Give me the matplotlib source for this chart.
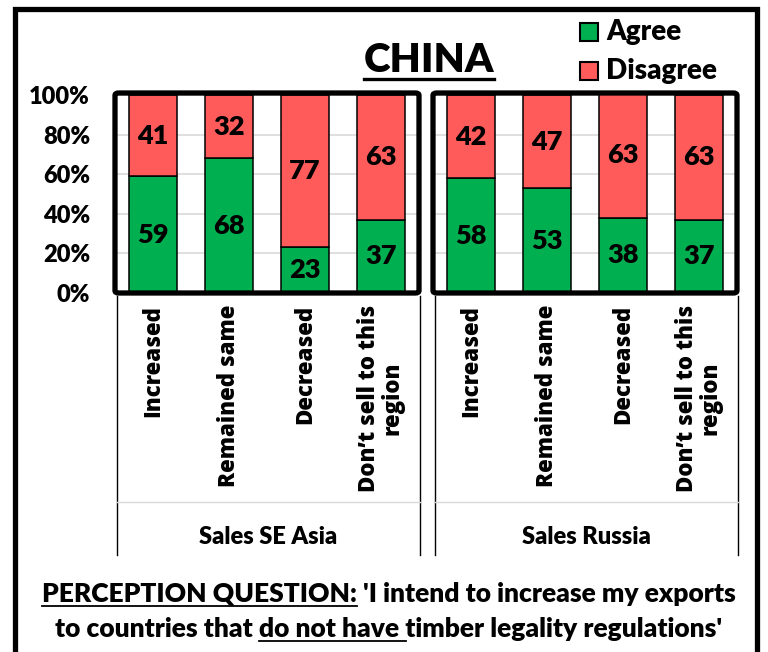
import matplotlib
matplotlib.use('Agg')
import matplotlib.pyplot as plt
from matplotlib.patches import Rectangle, FancyBboxPatch
from matplotlib.lines import Line2D
import numpy as np

# data
categories = ["Increased", "Remained same", "Decreased", "Don\u2019t sell to this\nregion"]
se_asia_agree = [59, 68, 23, 37]
se_asia_disagree = [41, 32, 77, 63]
russia_agree = [58, 53, 38, 37]
russia_disagree = [42, 47, 63, 63]
groups = ["Sales SE Asia", "Sales Russia"]
y_ticks = [0, 20, 40, 60, 80, 100]

GREEN = '#00B050'
RED = '#FF5B5B'
CAL = 'Lato'
OPEN = 'Open Sans'
HEAVY = 'heavy'

W, H = 768, 652
fig = plt.figure(figsize=(7.68, 6.52), dpi=100)
fig.patch.set_facecolor('white')


def fx(x):
    return x / W


def fy(y):
    return 1 - y / H


def hline(x0, x1, y, color='black', lw=1.0):
    fig.add_artist(Line2D([fx(x0), fx(x1)], [fy(y), fy(y)], color=color, lw=lw,
                          transform=fig.transFigure))


def vline(x, y0, y1, color='black', lw=1.0):
    fig.add_artist(Line2D([fx(x), fx(x)], [fy(y0), fy(y1)], color=color, lw=lw,
                          transform=fig.transFigure))


panels = [
    (115, se_asia_agree, se_asia_disagree, groups[0], True),
    (433, russia_agree, russia_disagree, groups[1], False),
]

idx = np.arange(len(categories))
for x0, agree, disagree, group, show_y in panels:
    ax = fig.add_axes([fx(x0), fy(293), 304 / W, 200 / H])
    ax.bar(idx, agree, width=0.64, color=GREEN, edgecolor='black', lw=1.1, zorder=3)
    ax.bar(idx, disagree, bottom=agree, width=0.64, color=RED, edgecolor='black',
           lw=1.1, zorder=3)
    for i, (a, d) in enumerate(zip(agree, disagree)):
        ax.text(i, a / 2, str(a), ha='center', va='center', fontsize=19.5,
                fontweight=HEAVY, family=CAL, zorder=4)
        ax.text(i, a + d / 2, str(d), ha='center', va='center', fontsize=19.5,
                fontweight=HEAVY, family=CAL, zorder=4)
    ax.set_xlim(-0.5, 3.5)
    ax.set_ylim(0, 101)
    ax.set_yticks(y_ticks)
    if show_y:
        ax.set_yticklabels([f"{v}%" for v in y_ticks], fontsize=17, fontweight=HEAVY,
                           family=CAL)
    else:
        ax.set_yticklabels([])
    ax.set_xticks(idx)
    ax.set_xticklabels(categories, rotation=90, fontsize=16, fontweight=800,
                       family=OPEN, multialignment='center', linespacing=1.0)
    ax.tick_params(axis='y', length=0, pad=18)
    ax.tick_params(axis='x', length=0, pad=8.5)
    ax.grid(axis='y', color='#d9d9d9', lw=1.2, zorder=0)
    ax.set_axisbelow(True)
    for s in ax.spines.values():
        s.set_visible(False)
    ax.add_patch(FancyBboxPatch((0, 0), 1, 1, boxstyle='round,pad=0,rounding_size=0.012',
                                transform=ax.transAxes, fill=False, ec='black', lw=3.8,
                                clip_on=False, zorder=6))

    # group axis lines and label
    left, right = x0 + 2, x0 + 305
    vline(left, 296, 555)
    vline(right, 296, 555)
    hline(left, right, 502, color='#d9d9d9', lw=1.0)
    fig.text(fx((left + right) / 2), fy(537), group, ha='center', va='center',
             fontsize=17, fontweight=HEAVY, family=CAL)

# outer frame
fig.add_artist(Rectangle((fx(14.5), fy(720)), fx(757) - fx(14.5), fy(9) - fy(720),
                         transform=fig.transFigure, fill=False, ec='black', lw=3.8))

# legend
for y, color, label in [(32, GREEN, 'Agree'), (71, RED, 'Disagree')]:
    fig.add_artist(Rectangle((fx(580), fy(y + 9)), 18 / W, 18 / H, transform=fig.transFigure,
                             fc=color, ec='black', lw=1.5))
    fig.text(fx(606), fy(y), label, ha='left', va='center', fontsize=20,
             fontweight=HEAVY, family=CAL)

renderer = fig.canvas.get_renderer()


def text_width(s, **kw):
    t = fig.text(0, 0, s + 'X', **kw)
    w1 = t.get_window_extent(renderer).width
    t.remove()
    t = fig.text(0, 0, 'X', **kw)
    w2 = t.get_window_extent(renderer).width
    t.remove()
    return w1 - w2


def underlined_line(text, xc, y_base, segments, size, ul_gap, lw):
    kw = dict(fontsize=size, fontweight=HEAVY, family=CAL)
    t = fig.text(fx(xc), fy(y_base), text, ha='center', va='baseline', **kw)
    x_left = t.get_window_extent(renderer).x0
    for seg in segments:
        start = text.index(seg)
        a = x_left + text_width(text[:start], **kw) if start else x_left
        b = x_left + text_width(text[:start + len(seg)], **kw)
        fig.add_artist(Line2D([a / W, b / W], [fy(y_base + ul_gap)] * 2, color='black',
                              lw=lw, transform=fig.transFigure))


# title
underlined_line("CHINA", 429, 72, ["CHINA"], 29, 7, 2.4)

# perception question
underlined_line("PERCEPTION QUESTION: 'I intend to increase my exports", 389, 602,
                ["PERCEPTION QUESTION:"], 19, 4, 1.3)
underlined_line("to countries that do not have timber legality regulations'", 389, 637,
                ["do not have "], 19, 4, 1.3)

fig.savefig('out.png', dpi=100, facecolor='white')
